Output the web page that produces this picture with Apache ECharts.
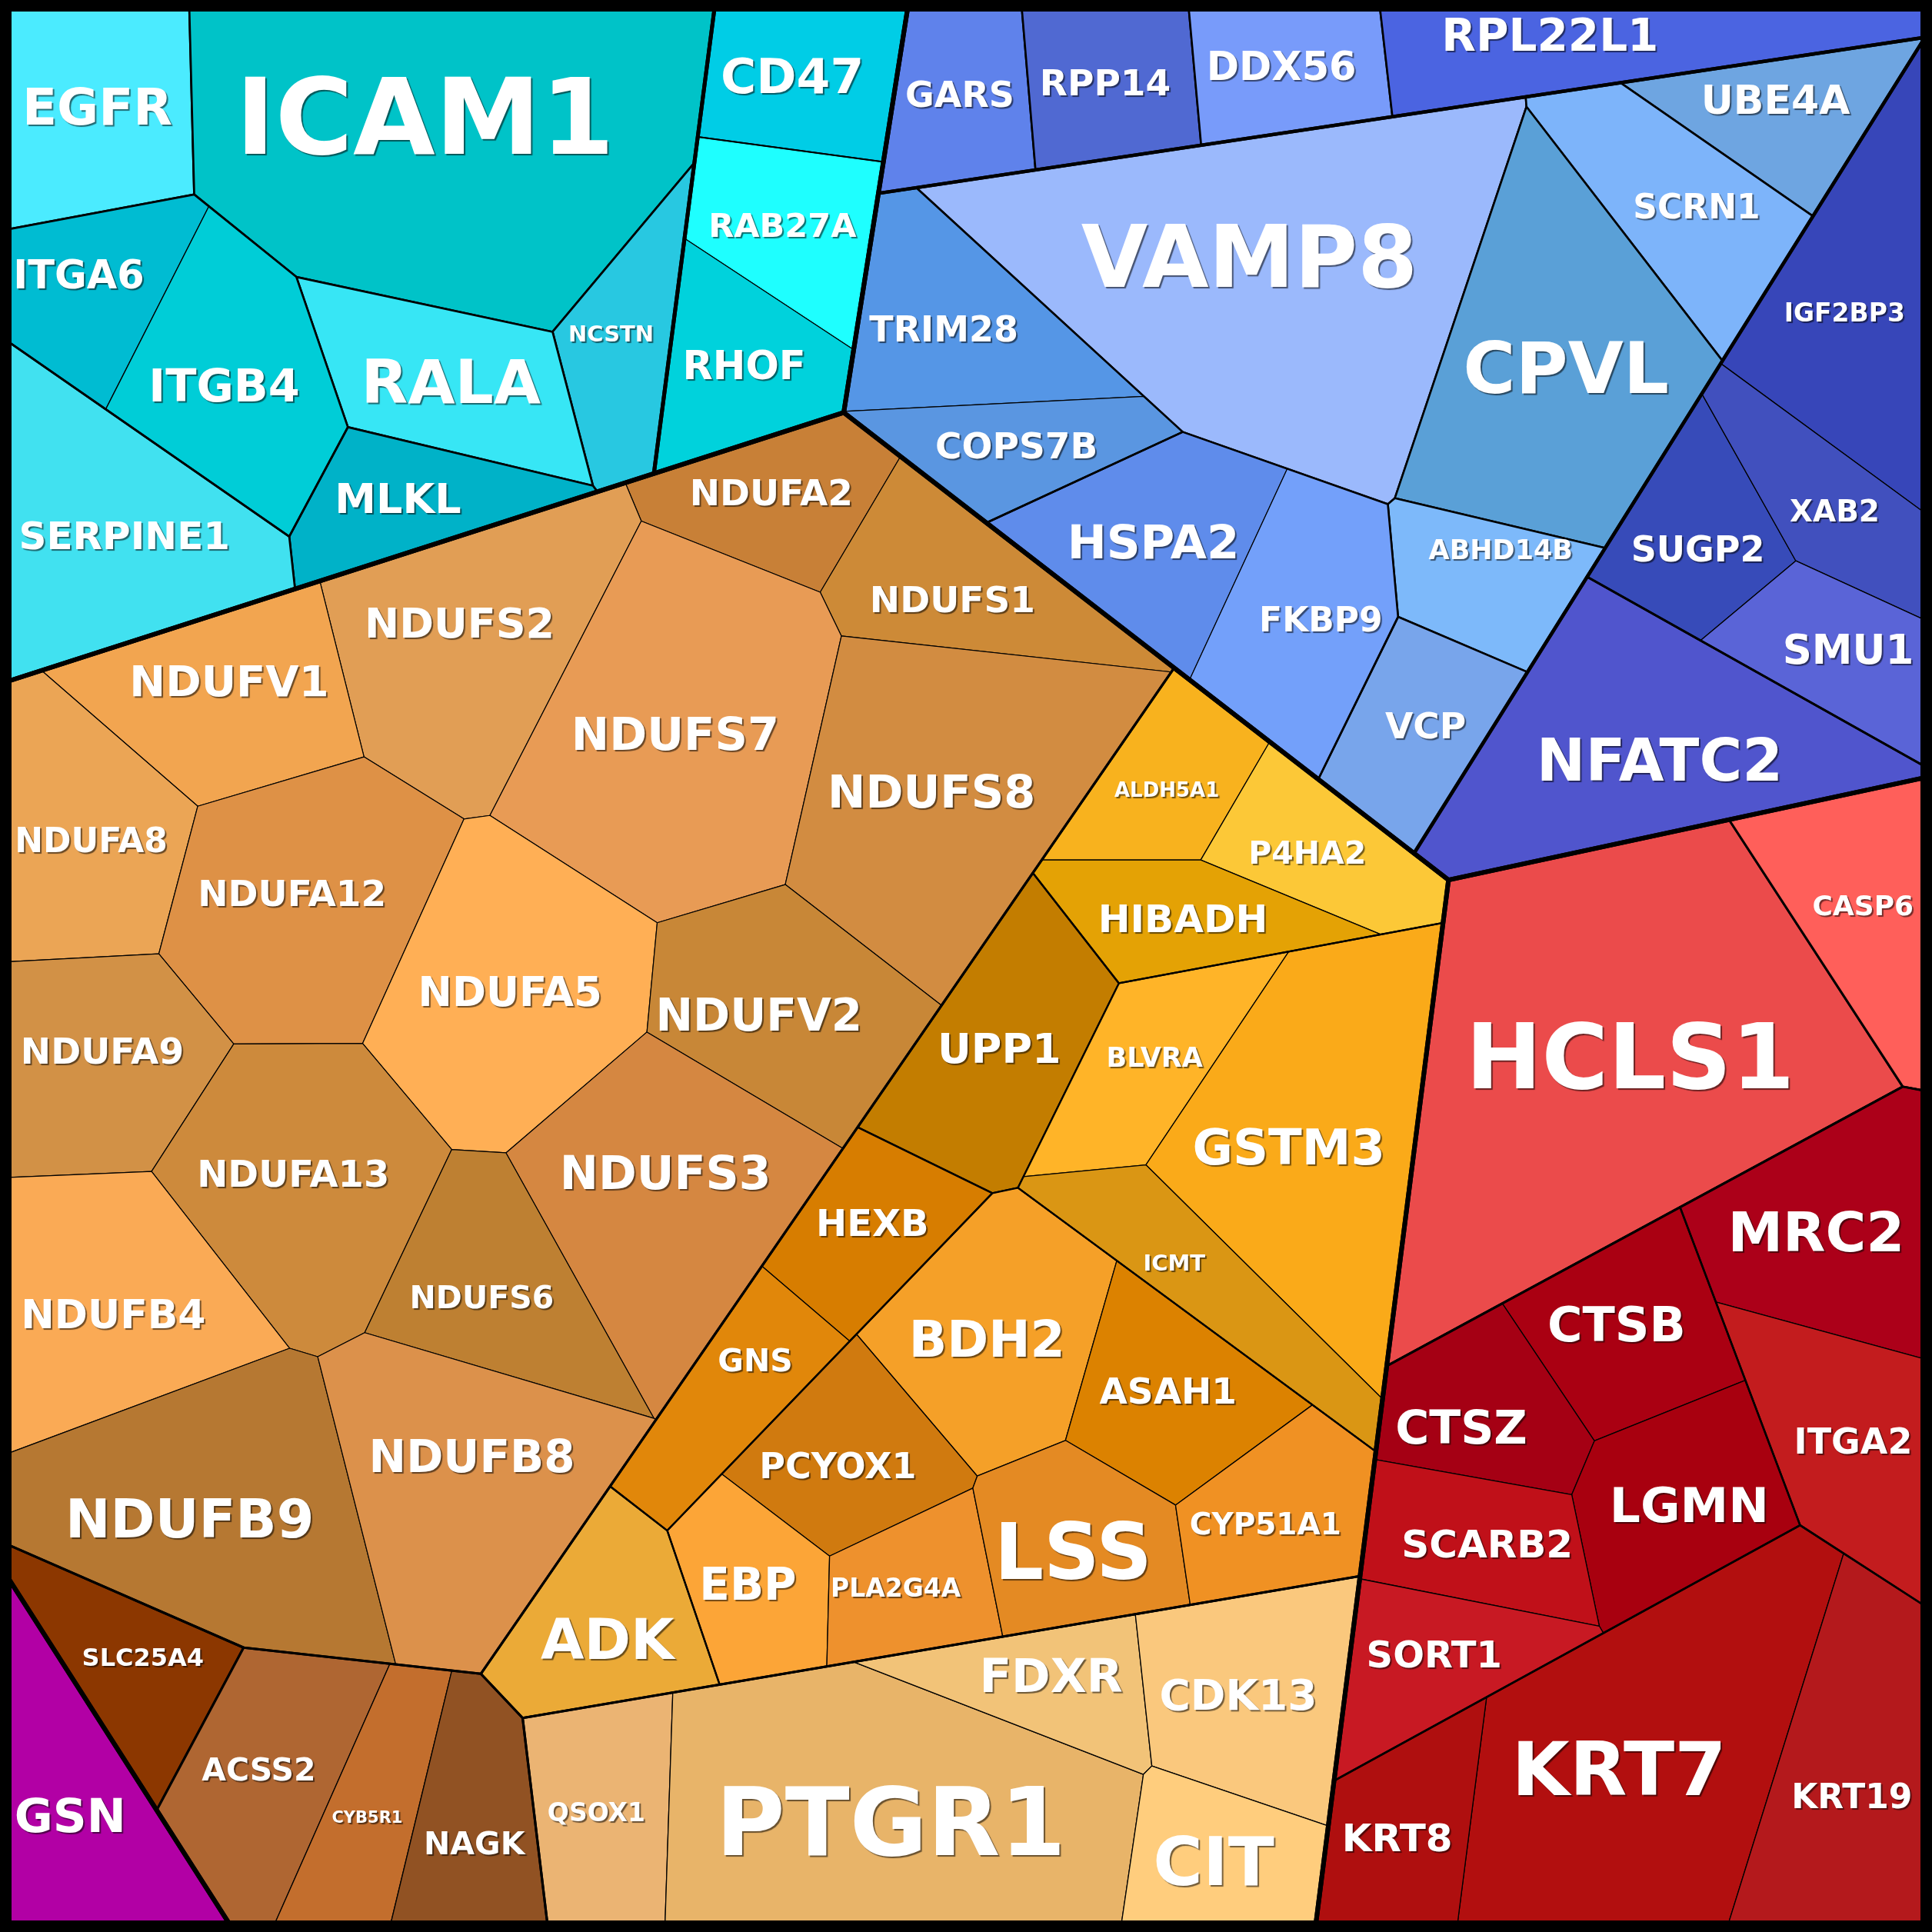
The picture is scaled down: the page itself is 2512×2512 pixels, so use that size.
<!DOCTYPE html>
<html><head><meta charset="utf-8">
<script src="https://cdn.jsdelivr.net/npm/echarts@6/dist/echarts.min.js"></script>
<style>html,body{margin:0;padding:0;background:#000}#c{width:2512px;height:2512px}</style>
</head><body><div id="c"></div>
<script>
// ---------------- data ----------------
const leafName = ['EGFR','ICAM1','CD47','RAB27A','RHOF','NCSTN','RALA','ITGA6','ITGB4','MLKL','SERPINE1',
 'GARS','RPP14','DDX56','RPL22L1','UBE4A','VAMP8','SCRN1','CPVL','ABHD14B','TRIM28','COPS7B','HSPA2','FKBP9','VCP','IGF2BP3','SUGP2','XAB2','SMU1','NFATC2',
 'HCLS1','CASP6','MRC2','ITGA2','CTSB','CTSZ','LGMN','SCARB2','SORT1','KRT7','KRT8','KRT19',
 'GSN',
 'NDUFA2','NDUFS1','NDUFS2','NDUFV1','NDUFS7','NDUFS8','NDUFA8','NDUFA12','NDUFA5','NDUFV2','NDUFA9','NDUFA13','NDUFS3','NDUFS6','NDUFB4','NDUFB9','NDUFB8',
 'SLC25A4','ACSS2','CYB5R1','NAGK',
 'ALDH5A1','P4HA2','HIBADH','UPP1','BLVRA','GSTM3','ICMT','HEXB','GNS','BDH2','ASAH1','PCYOX1','EBP','PLA2G4A','LSS','CYP51A1','ADK',
 'QSOX1','PTGR1','FDXR','CDK13','CIT'];
const leafGroup = ['Cyan/C2','Cyan/C2','Cyan/C1','Cyan/C1/RR','Cyan/C1/RR','Cyan/C2','Cyan/C2','Cyan/C2/ITG','Cyan/C2/ITG','Cyan/C2','Cyan/C2',
 'Blue/B1','Blue/B1','Blue/B1','Blue/B1','Blue/B2','Blue/B2','Blue/B2','Blue/B2','Blue/B2','Blue/B2/TC','Blue/B2/TC','Blue/B2/HF','Blue/B2/HF','Blue/B2','Blue/B3/ISXS','Blue/B3/ISXS','Blue/B3/ISXS','Blue/B3/ISXS','Blue/B3',
 'Red','Red','Red/X/MI','Red/X/MI','Red/X/CL','Red/X/CL','Red/X/CL','Red/X/CL','Red/X/CL','Red/X/K','Red/X/K','Red/X/K',
 'GSN',
 'Warm/N','Warm/N','Warm/N','Warm/N','Warm/N','Warm/N','Warm/N','Warm/N','Warm/N','Warm/N','Warm/N','Warm/N','Warm/N','Warm/N','Warm/N','Warm/N','Warm/N',
 'Warm','Warm/ACN','Warm/ACN','Warm/ACN',
 'Warm/O/OA','Warm/O/OA','Warm/O/OA','Warm/O','Warm/O/OC','Warm/O/OC','Warm/O/OC','Warm/O/OD','Warm/O/OD','Warm/O/OE','Warm/O/OE','Warm/O/OE','Warm/O/OE','Warm/O/OE','Warm/O/OE','Warm/O/OE','Warm/O',
 'Warm/P','Warm/P','Warm/P','Warm/P','Warm/P'];
const leafValue = [24.3,88.3,17.6,17.8,17.9,15.6,23.3,17.0,28.9,16.0,36.2,
 15.3,16.3,15.4,24.1,16.2,88.7,22.8,51.0,15.1,24.3,15.2,24.6,25.5,16.8,31.2,16.9,15.9,15.8,48.6,
 104.7,21.4,28.2,23.5,20.8,17.5,22.7,17.8,17.1,63.3,17.1,31.8,
 24.7,
 17.9,22.8,39.5,27.3,59.1,53.8,26.5,39.9,41.5,30.5,26.3,39.3,43.0,24.4,33.9,50.9,43.9,
 17.1,24.3,15.1,17.7,
 15.4,15.8,16.4,27.1,17.8,51.1,18.8,16.0,16.3,29.2,20.5,19.1,15.1,14.0,20.0,17.8,20.6,
 19.2,67.6,15.4,26.5,16.2];
// label anchor (site) of every cell, in reference units (0..1568)
const siteX = [79,345,643,635,604,496,366,64,182,323,101,
 779,897,1040,1258,1441,1014,1377,1271,1218,766,825,936,1072,1157,1497,1378,1489,1500,1347,
 1323,1512,1474,1504,1312,1186,1371,1207,1164,1314,1134,1503,
 57,
 626,773,373,186,548,756,74,237,414,616,83,238,540,391,92,154,383,
 116,210,298,385,
 947,1061,960,811,937,1046,953,708,613,801,948,680,607,727,871,1027,493,
 484,723,853,1005,985];
const siteY = [87,95,62,183,297,271,310,223,313,405,435,
 77,67,54,29,81,209,168,299,446,267,362,440,503,589,254,446,415,527,617,
 858,735,1000,1170,1075,1159,1222,1253,1343,1436,1492,1458,
 1474,
 400,487,506,553,596,643,682,725,805,824,853,953,952,1053,1067,1233,1182,
 1345,1436,1475,1496,
 641,692,746,851,858,931,1025,993,1104,1087,1129,1190,1286,1289,1260,1237,1331,
 1471,1479,1360,1376,1511];
// layout hints: generator points of the groups, and corrected generators of some cells
const groupSite = {Cyan:[331,191], Blue:[1153,321], Warm:[602,1034], Red:[1326,1126], GSN:[25,1403],
  C1:[622,232], C2:[269,186], RR:[619,240], ITG:[128,364],
  B1:[1059,52], B2:[1097,307], B3:[1402,498], TC:[871,365], HF:[921,473], ISXS:[1494,355],
  N:[378,745], O:[761,1009], ACN:[301,1444], P:[824,1381],
  OA:[1002,702], OC:[1052,970], OD:[719,1039], OE:[884,1198],
  X:[1447,1087], MI:[1527,1102], CL:[1233,1213], K:[1335,1399]};
const cellSite = {EGFR:[79,102], RALA:[300,305], NCSTN:[525,246], MLKL:[268,439], SERPINE1:[60,462],
  ITGA6:[64,240], ITGB4:[182,300], RAB27A:[648,180], RHOF:[592,265],
  CPVL:[1255,290], SCRN1:[1395,182], UBE4A:[1465,81], TRIM28:[790,262], COPS7B:[795,362],
  IGF2BP3:[1551,308], SUGP2:[1384,459], XAB2:[1480,405], SMU1:[1430,514],
  ALDH5A1:[960,600], P4HA2:[1020,635], HIBADH:[960,780],
  NDUFS6:[400,1030], NDUFB8:[355,1182],
  FDXR:[775,1345], CDK13:[1005,1320], CIT:[940,1511],
  CTSZ:[1200,1150], SCARB2:[1180,1262], KRT7:[1314,1450], KRT8:[1135,1427], KRT19:[1497,1507],
  MRC2:[1495,995], ITGA2:[1450,1160]};
// ---------------- styles ----------------
const leafColor = ['#4BEBFF','#00C3C8','#00CDE6','#1EFFFF','#00D2DC','#28C8E1','#37E6F5','#00BCD2','#00CDD7','#00B2C8','#41E1F0',
 '#5F82EB','#5069D2','#789BFA','#4B64E1','#6EA5E1','#9BB9FC','#7DB4FA','#5AA0D7','#7DB9FA','#5596E6','#5A96E1','#5F8CEB','#73A0FA','#78A5EB','#3746B9','#374BB9','#4150BE','#5A64D7','#5055CD',
 '#EB4B4B','#FF5F5A','#AC0019','#C31C1E','#AA0012','#A50014','#A8000F','#C01019','#C81923','#B20F0F','#AF0F0F','#B4191C',
 '#B200A5',
 '#C88037','#CD8A37','#E19E55','#F2A550','#E89B55','#D28C41','#EBA555','#DE9146','#FFAF55','#C88737','#D29146','#CD8A3C','#D58741','#BE8032','#FAAA55','#B67832','#DC914B',
 '#8C3700','#AF6632','#C36E2D','#915223',
 '#F8B21E','#FCC837','#E4A205','#C37D00','#FFB428','#FAAA19','#DA9614','#D77D00','#E1870A','#F5A028','#DC8200','#D07A0F','#FCA537','#EE912D','#E48A23','#F09123','#EBAA37',
 '#EBB473','#E8B469','#F2C378','#FAC87D','#FFCD7D'];
const labelFont = [66,138,63,43,51,29,79,51,59,54,50,
 46,47,51,58,52,112,44,93,35,46,47,61,44,47,33,46,39,53,76,
 118,36,72,46,62,60,63,50,48,97,50,44,
 61,
 47,47,54,56,59,59,44,47,53,58,47,48,60,41,52,70,58,
 32,41,21,41,
 26,41,50,54,35,64,29,48,41,65,47,46,58,33,101,39,73,
 33,123,61,55,88];
// stroke width (px) of the borders between the children of a group
const innerLine = {root:6.0, Cyan:5.0, Blue:4.4, Warm:3.1, Red:3.0, GSN:4.5,
  C1:2.0, C2:2.7, B1:2.6, B2:2.6, B3:2.8, O:2.3, X:2.5,
  RR:1.2, ITG:1.3, TC:1.2, HF:1.2, ISXS:1.3, N:1.2, ACN:1.3, P:1.3,
  OA:1.3, OC:1.3, OD:1.3, OE:1.3, MI:1.3, CL:1.3, K:1.3};
const X0 = 7.5, X1 = 1560.5; // inner square, the black frame lies outside it

// ---------------- geometry helpers ----------------
function polyArea(P){let a=0;for(let i=0,n=P.length;i<n;i++){const p=P[i],q=P[(i+1)%n];a+=p[0]*q[1]-q[0]*p[1];}return a/2;}
function polyCentroid(P){let a=0,cx=0,cy=0;for(let i=0,n=P.length;i<n;i++){const p=P[i],q=P[(i+1)%n];const c=p[0]*q[1]-q[0]*p[1];a+=c;cx+=(p[0]+q[0])*c;cy+=(p[1]+q[1])*c;}a/=2;return [cx/(6*a),cy/(6*a)];}
function inside(P,s){let sg=0;for(let i=0,n=P.length;i<n;i++){const p=P[i],q=P[(i+1)%n];const c=(q[0]-p[0])*(s[1]-p[1])-(q[1]-p[1])*(s[0]-p[0]);if(Math.abs(c)<1e-9)continue;const t=c>0?1:-1;if(!sg)sg=t;else if(t!==sg)return false;}return true;}
function clipHP(pts,labs,a,b,c,lab){
  const n=pts.length,op=[],ol=[];
  for(let k=0;k<n;k++){
    const P=pts[k],Q=pts[(k+1)%n],L=labs[k];
    const fp=a*P[0]+b*P[1]-c,fq=a*Q[0]+b*Q[1]-c;
    if(fp<=0){
      op.push(P);
      if(fq<=0){ol.push(L);}
      else{const t=fp/(fp-fq);op.push([P[0]+t*(Q[0]-P[0]),P[1]+t*(Q[1]-P[1])]);ol.push(L);ol.push(lab);}
    }else if(fq<=0){
      const t=fp/(fp-fq);op.push([P[0]+t*(Q[0]-P[0]),P[1]+t*(Q[1]-P[1])]);ol.push(L);
    }
  }
  return [op,ol];
}
function powerCells(S,W,clip){
  const n=S.length,cells=[];
  for(let i=0;i<n;i++){
    let pts=clip.slice(),labs=clip.map(()=>-1);
    const xi=S[i][0],yi=S[i][1];
    for(let j=0;j<n&&pts.length;j++){
      if(j===i)continue;
      const xj=S[j][0],yj=S[j][1];
      [pts,labs]=clipHP(pts,labs,2*(xj-xi),2*(yj-yi),xj*xj+yj*yj-xi*xi-yi*yi-W[j]+W[i],j);
    }
    cells.push({pts,labs,area:pts.length>=3?Math.abs(polyArea(pts)):0});
  }
  return cells;
}
function linSolve(A,b){
  const m=b.length,M=A.map((r,i)=>r.concat([b[i]]));
  for(let c=0;c<m;c++){
    let p=c;for(let r=c+1;r<m;r++)if(Math.abs(M[r][c])>Math.abs(M[p][c]))p=r;
    const tmp=M[c];M[c]=M[p];M[p]=tmp;
    const v=M[c][c];if(Math.abs(v)<1e-14)continue;
    for(let r=0;r<m;r++){if(r===c)continue;const f=M[r][c]/v;if(!f)continue;for(let k=c;k<=m;k++)M[r][k]-=f*M[c][k];}
  }
  return M.map((r,i)=>Math.abs(r[i])<1e-14?0:r[m]/r[i]);
}
// power-diagram weights that give every cell its target area (damped Newton)
function solveWeights(S,T,clip){
  const n=S.length;let W=new Array(n).fill(0);
  let cells=powerCells(S,W,clip);
  const eps0=0.5*Math.min(Math.min(...T),Math.min(...cells.map(c=>c.area)));
  for(let it=0;it<80;it++){
    const g=T.map((t,i)=>t-cells[i].area);
    const gn=Math.hypot(...g);
    if(Math.max(...g.map((v,i)=>Math.abs(v)/T[i]))<1e-6)break;
    const H=[...Array(n)].map(()=>new Array(n).fill(0));
    for(let i=0;i<n;i++){const c=cells[i],m=c.pts.length;
      for(let k=0;k<m;k++){const j=c.labs[k];if(j<0)continue;const P=c.pts[k],Q=c.pts[(k+1)%m];
        const len=Math.hypot(Q[0]-P[0],Q[1]-P[1]);const d=Math.hypot(S[j][0]-S[i][0],S[j][1]-S[i][1]);
        if(d<1e-9)continue;const v=len/(2*d);H[i][i]+=v;H[i][j]-=v;}}
    const m=n-1;
    const dw=linSolve(H.slice(0,m).map(r=>r.slice(0,m)),g.slice(0,m));dw.push(0);
    let tau=1,ok=false;
    while(tau>1e-7){
      const Wn=W.map((w,i)=>w+tau*dw[i]);
      const cn=powerCells(S,Wn,clip);
      const minA=Math.min(...cn.map(c=>c.area));
      const gn2=Math.hypot(...T.map((t,i)=>t-cn[i].area));
      if(minA>=eps0&&gn2<=(1-tau/2)*gn){W=Wn;cells=cn;ok=true;break;}
      tau/=2;
    }
    if(!ok)break;
  }
  return cells;
}

// ---------------- hierarchy ----------------
const root={name:'root',children:[],depth:0,parent:null};
leafName.forEach((nm,i)=>{
  let node=root;
  leafGroup[i].split('/').forEach(seg=>{
    let ch=node.children.find(c=>c.name===seg&&c.children);
    if(!ch){ch={name:seg,children:[],depth:node.depth+1,parent:node};node.children.push(ch);}
    node=ch;
  });
  node.children.push({name:nm,leaf:i,depth:node.depth+1,parent:node});
});
function prep(node){
  if(node.leaf!==undefined){node.value=leafValue[node.leaf];
    node.site=cellSite[node.name]?cellSite[node.name].slice():[siteX[node.leaf],siteY[node.leaf]];return;}
  node.children.forEach(prep);
  node.value=node.children.reduce((s,c)=>s+c.value,0);
  node.site=groupSite[node.name]?groupSite[node.name].slice():
    [node.children.reduce((s,c)=>s+c.value*c.site[0],0)/node.value,
     node.children.reduce((s,c)=>s+c.value*c.site[1],0)/node.value];
}
prep(root);
function layout(node,poly){
  node.poly=poly;
  if(!node.children)return;
  const kids=node.children;
  if(kids.length===1){layout(kids[0],poly);return;}
  const A=Math.abs(polyArea(poly)),cen=polyCentroid(poly);
  const S=kids.map(k=>{let s=k.site.slice(),guard=0;
    while(!inside(poly,s)&&guard++<60){s=[cen[0]+0.9*(s[0]-cen[0]),cen[1]+0.9*(s[1]-cen[1])];}
    return s;});
  const T=kids.map(k=>k.value/node.value*A);
  const cells=solveWeights(S,T,poly);
  kids.forEach((k,i)=>layout(k,cells[i].pts));
}
layout(root,[[X0,X0],[X1,X0],[X1,X1],[X0,X1]]);

const leaves=[],groups=[];
(function walk(n){if(n.leaf!==undefined)leaves.push(n);else{if(n!==root)groups.push(n);n.children.forEach(walk);}})(root);
function strokeOf(n){return innerLine[n.parent.name]!==undefined?innerLine[n.parent.name]:1.3;}
leaves.sort((a,b)=>a.leaf-b.leaf);
const leafPoly=leaves.map(n=>n.poly), leafLW=leaves.map(strokeOf);
groups.forEach(g=>g.lw=strokeOf(g));
groups.sort((a,b)=>a.lw-b.lw);

// ---------------- chart ----------------
const chart=echarts.init(document.getElementById('c'),null,{renderer:'canvas',width:2512,height:2512});
chart.setOption({
  animation:false,
  backgroundColor:'#000',
  grid:{left:0,right:0,top:0,bottom:0,containLabel:false},
  xAxis:{type:'value',min:0,max:1568,show:false},
  yAxis:{type:'value',min:0,max:1568,inverse:true,show:false},
  series:[
    {type:'custom',coordinateSystem:'cartesian2d',clip:false,silent:true,
     encode:{x:0,y:1},
     data:leaves.map(n=>[siteX[n.leaf],siteY[n.leaf],n.leaf]),
     renderItem:(p,api)=>{const i=api.value(2);
       return {type:'polygon',shape:{points:leafPoly[i].map(q=>api.coord(q))},
         style:{fill:leafColor[i],stroke:'#000',lineWidth:leafLW[i],lineJoin:'round'}};}},
    {type:'custom',coordinateSystem:'cartesian2d',clip:false,silent:true,
     encode:{x:0,y:1},
     data:groups.map((g,k)=>[g.site[0],g.site[1],k]),
     renderItem:(p,api)=>{const g=groups[api.value(2)];
       return {type:'polygon',shape:{points:g.poly.map(q=>api.coord(q))},
         style:{fill:'none',stroke:'#000',lineWidth:g.lw,lineJoin:'round'}};}},
    {type:'custom',coordinateSystem:'cartesian2d',clip:false,silent:true,
     encode:{x:0,y:1},
     data:leaves.map(n=>[siteX[n.leaf],siteY[n.leaf],n.leaf]),
     renderItem:(p,api)=>{const i=api.value(2);const c=api.coord([api.value(0),api.value(1)]);
       return {type:'text',x:c[0],y:c[1]+0.085*labelFont[i],
         style:{text:leafName[i],fill:'#fff',
           font:'bold '+labelFont[i]+'px "DejaVu Sans"',
           align:'center',verticalAlign:'middle',textAlign:'center',textVerticalAlign:'middle',
           textShadowColor:'rgba(0,0,0,0.55)',textShadowOffsetX:2,textShadowOffsetY:2,textShadowBlur:1}};}}
  ]
});
</script></body></html>
